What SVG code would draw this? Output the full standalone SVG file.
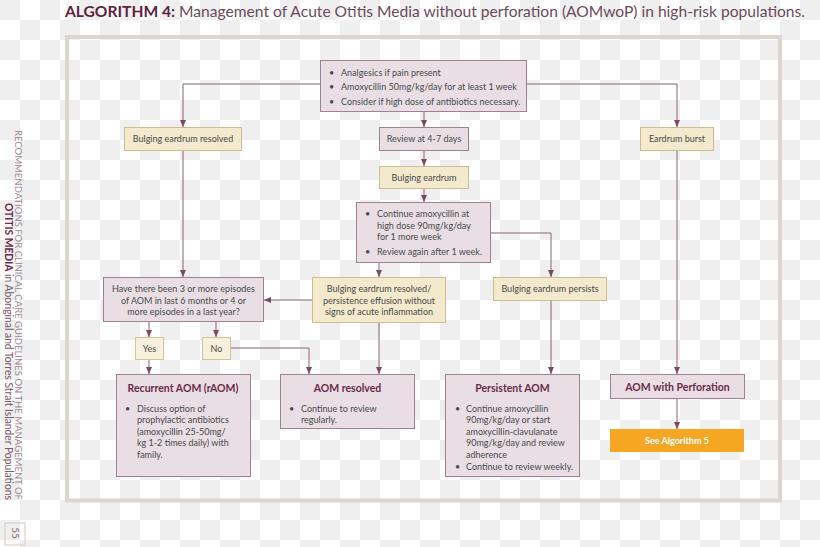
<svg xmlns="http://www.w3.org/2000/svg" width="820" height="547" viewBox="0 0 820 547">
<defs>
<pattern id="chk" width="40" height="40" patternUnits="userSpaceOnUse">
<rect width="40" height="40" fill="#ffffff"/>
<rect width="20" height="20" fill="#efefef"/>
<rect x="20" y="20" width="20" height="20" fill="#efefef"/>
</pattern>
<marker id="ah" markerUnits="userSpaceOnUse" markerWidth="7" markerHeight="6" refX="7" refY="3" orient="auto">
<path d="M0,0 L7,3 L0,6 z" fill="#7a4a63"/>
</marker>
<style>
text{font-family:Lato,"Open Sans","Liberation Sans",sans-serif;}
.m{fill:#e8dee3;stroke:#a0818f;stroke-width:1;}
.t{fill:#f3e9cc;stroke:#cfbd90;stroke-width:1;}
.ty{fill:#f7f0dc;stroke:#d3c398;stroke-width:1;}
.b{font-size:9px;fill:#4a4a4a;}
.c{font-size:9px;fill:#4a4a4a;text-anchor:middle;}
.h{font-size:10.5px;font-weight:bold;fill:#6b2b4b;text-anchor:middle;}
#connectors path{fill:none;stroke:#8a6278;stroke-width:1;marker-end:url(#ah);}
</style>
</defs>
<rect width="820" height="547" fill="url(#chk)"/>
<text x="65" y="17" font-size="16" fill="#6b4a5e" textLength="740" lengthAdjust="spacingAndGlyphs"><tspan font-weight="bold" fill="#5b2440">ALGORITHM 4:</tspan> Management of Acute Otitis Media without perforation (AOMwoP) in high-risk populations.</text>
<rect x="67" y="37" width="713" height="463.5" fill="none" stroke="#dcd6ce" stroke-width="4"/>
<g transform="translate(15,500) rotate(90)"><text x="0" y="0" text-anchor="end" font-size="9.5" fill="#9c8a94" textLength="370" lengthAdjust="spacingAndGlyphs">RECOMMENDATIONS FOR CLINICAL CARE GUIDELINES ON THE MANAGEMENT OF</text></g>
<g transform="translate(4.5,500) rotate(90)"><text x="0" y="0" text-anchor="end" font-size="10.5" fill="#7a5a6c" textLength="297" lengthAdjust="spacingAndGlyphs"><tspan font-weight="bold" fill="#6b2b4b">OTITIS MEDIA</tspan> in Aboriginal and Torres Strait Islander Populations</text></g>
<rect x="5" y="523" width="20" height="22" fill="none" stroke="#d8d0ca" stroke-width="1.2"/>
<g transform="translate(12,533) rotate(90)"><text x="0" y="0" text-anchor="middle" font-size="10" fill="#8b6a7a">55</text></g>

<g id="connectors">
<path d="M320,84 H183 V127"/>
<path d="M527,84 H677 V127"/>
<path d="M424,112 V127"/>
<path d="M424,150 V166"/>
<path d="M424,188 V202"/>
<path d="M379,263 V277"/>
<path d="M491,233 H551 V277"/>
<path d="M312,300 H264"/>
<path d="M183,150 V277"/>
<path d="M149,322 V337"/>
<path d="M216,322 V337"/>
<path d="M149,359 V374"/>
<path d="M231,348 H309 V374"/>
<path d="M379,322 V374"/>
<path d="M551,300 V374"/>
<path d="M677,150 V374"/>
<path d="M677,399 V429"/>
</g>

<g id="start">
<rect class="m" x="320.5" y="60.5" width="206" height="51"/>
<text class="b" x="329" y="76">•</text><text class="b" x="341" y="76">Analgesics if pain present</text>
<text class="b" x="329" y="90">•</text><text class="b" x="341" y="90">Amoxycillin 50mg/kg/day for at least 1 week</text>
<text class="b" x="329" y="105">•</text><text class="b" x="341" y="105">Consider if high dose of antibiotics necessary.</text>
</g>
<g id="resolved1">
<rect class="t" x="124.5" y="127.5" width="117" height="23"/>
<text class="c" x="183" y="142">Bulging eardrum resolved</text>
</g>
<g id="review">
<rect class="m" x="379.5" y="127.5" width="89" height="23"/>
<text class="c" x="424" y="142">Review at 4-7 days</text>
</g>
<g id="burst">
<rect class="t" x="640.5" y="127.5" width="73" height="23"/>
<text class="c" x="677" y="142">Eardrum burst</text>
</g>
<g id="bulging">
<rect class="t" x="379.5" y="166.5" width="89" height="22"/>
<text class="c" x="424" y="180.5">Bulging eardrum</text>
</g>
<g id="continue">
<rect class="m" x="356.5" y="202.5" width="134" height="60"/>
<text class="b" x="365" y="217">•</text><text class="b" x="377" y="217">Continue amoxycillin at</text>
<text class="b" x="377" y="228.5">high dose 90mg/kg/day</text>
<text class="b" x="377" y="240">for 1 more week</text>
<text class="b" x="365" y="255">•</text><text class="b" x="377" y="255">Review again after 1 week.</text>
</g>
<g id="question">
<rect class="m" x="103.5" y="277.5" width="160" height="44"/>
<text class="c" x="183.5" y="292">Have there been 3 or more episodes</text>
<text class="c" x="183.5" y="303.5">of AOM in last 6 months or 4 or</text>
<text class="c" x="183.5" y="315">more episodes in a last year?</text>
</g>
<g id="resolved2">
<rect class="t" x="312.5" y="277.5" width="133" height="45"/>
<text class="c" x="379" y="292">Bulging eardrum resolved/</text>
<text class="c" x="379" y="303.5">persistence effusion without</text>
<text class="c" x="379" y="315">signs of acute inflammation</text>
</g>
<g id="persists">
<rect class="t" x="493.5" y="277.5" width="113" height="23"/>
<text class="c" x="550" y="292">Bulging eardrum persists</text>
</g>
<g id="yes">
<rect class="ty" x="135.5" y="337.5" width="28" height="22"/>
<text class="c" x="149.5" y="351.5">Yes</text>
</g>
<g id="no">
<rect class="ty" x="202.5" y="337.5" width="28" height="22"/>
<text class="c" x="216.5" y="351.5">No</text>
</g>
<g id="raom">
<rect class="m" x="116.5" y="374.5" width="134" height="102"/>
<text class="h" x="183" y="391.5">Recurrent AOM (rAOM)</text>
<text class="b" x="125" y="411.5">•</text><text class="b" x="137" y="411.5">Discuss option of</text>
<text class="b" x="137" y="423">prophylactic antibiotics</text>
<text class="b" x="137" y="434.5">(amoxycillin 25-50mg/</text>
<text class="b" x="137" y="446">kg 1-2 times daily) with</text>
<text class="b" x="137" y="457.5">family.</text>
</g>
<g id="aomresolved">
<rect class="m" x="280.5" y="374.5" width="134" height="54"/>
<text class="h" x="347.5" y="391.5">AOM resolved</text>
<text class="b" x="289" y="411.5">•</text><text class="b" x="301" y="411.5">Continue to review</text>
<text class="b" x="301" y="423">regularly.</text>
</g>
<g id="persistent">
<rect class="m" x="445.5" y="374.5" width="134" height="102"/>
<text class="h" x="512.5" y="391.5">Persistent AOM</text>
<text class="b" x="455" y="411.5">•</text><text class="b" x="466" y="411.5">Continue amoxycillin</text>
<text class="b" x="466" y="423">90mg/kg/day or start</text>
<text class="b" x="466" y="434.5">amoxycillin-clavulanate</text>
<text class="b" x="466" y="446">90mg/kg/day and review</text>
<text class="b" x="466" y="457.5">adherence</text>
<text class="b" x="455" y="469.5">•</text><text class="b" x="466" y="469.5">Continue to review weekly.</text>
</g>
<g id="perforation">
<rect class="m" x="610.5" y="374.5" width="134" height="24"/>
<text class="h" x="677.5" y="391">AOM with Perforation</text>
</g>
<g id="alg5">
<rect x="610" y="429" width="134" height="23" fill="#f5a623"/>
<text x="677" y="443.5" font-size="9" font-weight="bold" fill="#ffffff" text-anchor="middle">See Algorithm 5</text>
</g>
</svg>
